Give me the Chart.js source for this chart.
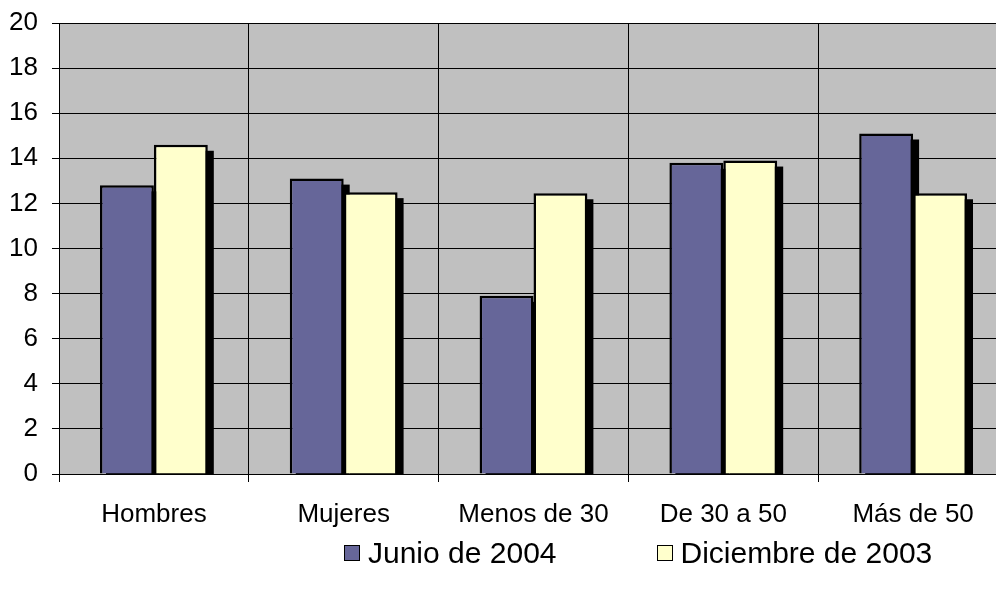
<!DOCTYPE html>
<html>
<head>
<meta charset="utf-8">
<script src="https://cdn.jsdelivr.net/npm/chart.js@4"></script>
<style>
  body { margin: 0; background: #fff; overflow: hidden; }
  #wrap { position: relative; width: 996px; height: 595px; overflow: hidden; }
  #legend { position: absolute; left: 344px; top: 536px; display: flex; font-family: "Liberation Sans", Arial, sans-serif; font-size: 30px; color: #000; }
  .item { display: flex; align-items: center; white-space: nowrap; }
  .box { width: 14px; height: 14px; border: 1.5px solid #000; margin-right: 8px; }
</style>
</head>
<body>
<div id="wrap">
  <canvas id="chart" width="1010" height="595"></canvas>
  <div id="legend"></div>
</div>
<script>
const categories = ['Hombres', 'Mujeres', 'Menos de 30', 'De 30 a 50', 'Más de 50'];
const junio2004 = [12.8, 13.1, 7.9, 13.8, 15.1];
const diciembre2003 = [14.6, 12.5, 12.45, 13.9, 12.45];
const seriesNames = ['Junio de 2004', 'Diciembre de 2003'];
const seriesColors = ['#666699', '#FFFFCC'];

const FONT = '"Liberation Sans", Arial, sans-serif';

// grey plot area
const plotBg = {
    id: 'plotBg',
    beforeDraw(chart) {
        const { ctx, chartArea: a } = chart;
        ctx.save();
        ctx.fillStyle = '#C0C0C0';
        ctx.fillRect(a.left, a.top, a.right - a.left, a.bottom - a.top);
        ctx.restore();
    }
};

// black drop shadow behind every bar
const barShadow = {
    id: 'barShadow',
    beforeDatasetsDraw(chart) {
        const { ctx, chartArea: a } = chart;
        ctx.save();
        ctx.beginPath();
        ctx.rect(a.left, a.top, a.right - a.left, a.bottom - a.top);
        ctx.clip();
        ctx.fillStyle = '#000';
        chart.data.datasets.forEach((ds, i) => {
            chart.getDatasetMeta(i).data.forEach(el => {
                const p = el.getProps(['x', 'y', 'base', 'width'], true);
                ctx.fillRect(p.x - p.width / 2 + 6, p.y + 6, p.width, p.base - p.y);
            });
        });
        ctx.restore();
    }
};

const chart = new Chart(document.getElementById('chart'), {
    type: 'bar',
    data: {
        labels: categories,
        datasets: [{
            label: seriesNames[0],
            data: junio2004,
            backgroundColor: seriesColors[0],
            borderColor: '#000',
            borderWidth: 2.5
        }, {
            label: seriesNames[1],
            data: diciembre2003,
            backgroundColor: seriesColors[1],
            borderColor: '#000',
            borderWidth: 2.5
        }]
    },
    options: {
        responsive: false,
        animation: false,
        devicePixelRatio: 1,
        layout: { padding: { top: 23, right: 2, bottom: 61, left: 0 } },
        datasets: { bar: { categoryPercentage: 0.568, barPercentage: 1.0 } },
        plugins: {
            legend: { display: false },
            tooltip: { enabled: false }
        },
        scales: {
            x: {
                grid: { color: '#000', lineWidth: 1, tickLength: 8, offset: true },
                border: { color: '#000' },
                ticks: { color: '#000', padding: 17, font: { family: FONT, size: 26 }, maxRotation: 0 },
                afterFit(s) { s.height = 60; }
            },
            y: {
                min: 0,
                max: 20,
                grid: { color: '#000', lineWidth: 1, tickLength: 7 },
                border: { color: '#000' },
                ticks: { stepSize: 2, color: '#000', padding: 14, font: { family: FONT, size: 26 } },
                afterFit(s) { s.width = 59; s.paddingTop = 0; s.paddingBottom = 0; }
            }
        }
    },
    plugins: [plotBg, barShadow]
});

// legend built from the same series arrays
const legend = document.getElementById('legend');
seriesNames.forEach((name, i) => {
    const item = document.createElement('div');
    item.className = 'item';
    if (i > 0) item.style.marginLeft = '100px';
    const box = document.createElement('span');
    box.className = 'box';
    box.style.background = seriesColors[i];
    const txt = document.createElement('span');
    txt.textContent = name;
    item.appendChild(box);
    item.appendChild(txt);
    legend.appendChild(item);
});
</script>
</body>
</html>
